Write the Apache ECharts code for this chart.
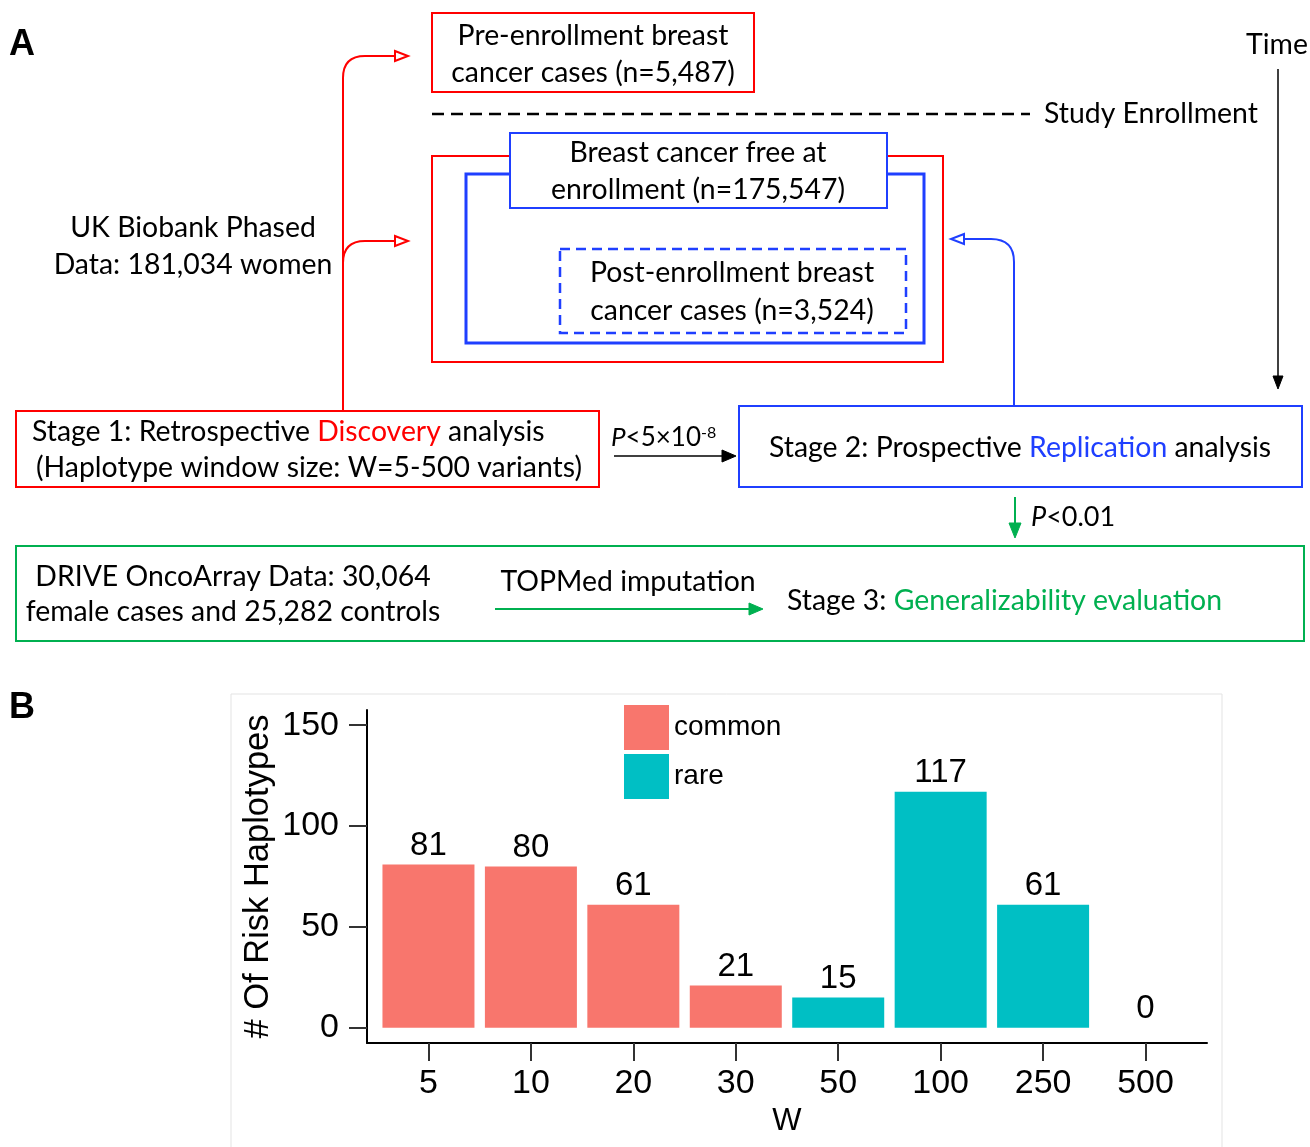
<!DOCTYPE html>
<html>
<head>
<meta charset="utf-8">
<script src="https://cdn.jsdelivr.net/npm/echarts@6/dist/echarts.min.js"></script>
<style>html,body{margin:0;padding:0;background:#fff}#c{width:1310px;height:1147px}</style>
</head>
<body>
<div id="c"></div>
<script>
// ---- Data (panel B) ----
const wCategories = ['5', '10', '20', '30', '50', '100', '250', '500'];
const commonValues = [81, 80, 61, 21, null, null, null, null];
const rareValues = [null, null, null, null, 15, 117, 61, 0];
const yTickValues = [0, 50, 100, 150];
const seriesNames = ['common', 'rare'];

// ---- Styling ----
const RED = '#FF0000', BLUE = '#1F3FFF', GREEN = '#00B050';
const FF = 'Lato, "Noto Sans", sans-serif';
const AF = '"Liberation Sans", Arial, Helvetica, sans-serif';
const FS = 28.4;

function toPoints(vals) {
  const out = [];
  vals.forEach((v, i) => { if (v !== null) out.push([i + 1, v]); });
  return out;
}

function txt(x, y, text, o) {
  o = o || {};
  return {
    type: 'text', x: x, y: y, z: 10,
    style: {
      text: text, fill: o.fill || '#000',
      font: (o.style || 'normal') + ' ' + (o.weight || 'normal') + ' ' + (o.size || FS) + 'px ' + (o.family || FF),
      align: o.align || 'center', verticalAlign: 'middle',
      rich: o.rich
    }
  };
}
function rect(x, y, w, h, stroke, lw, dash, fill) {
  return {
    type: 'rect', z: 5,
    shape: { x: x, y: y, width: w, height: h },
    style: { fill: fill || 'none', stroke: stroke, lineWidth: lw, lineDash: dash || null }
  };
}
function line(x1, y1, x2, y2, stroke, lw, dash) {
  return { type: 'line', z: 5, shape: { x1, y1, x2, y2 }, style: { stroke: stroke, lineWidth: lw, lineDash: dash || null } };
}
function curve(x1, y1, cx, cy, x2, y2, stroke, lw) {
  return { type: 'bezierCurve', z: 5, shape: { x1, y1, cpx1: cx, cpy1: cy, x2, y2 }, style: { stroke: stroke, lineWidth: lw, fill: 'none' } };
}
function tri(pts, stroke, fill, lw) {
  return { type: 'polygon', z: 6, shape: { points: pts }, style: { stroke: stroke, fill: fill, lineWidth: lw || 1 } };
}

const rich = (col) => ({
  n: { fill: '#000', font: 'normal ' + FS + 'px ' + FF },
  c: { fill: col, font: 'normal ' + FS + 'px ' + FF }
});

const graphics = [
  // panel labels
  txt(9, 45, 'A', { weight: 'bold', size: 36, family: AF, align: 'left' }),
  txt(9, 708, 'B', { weight: 'bold', size: 36, family: AF, align: 'left' }),
  // panel B frame
  { type: 'rect', z: -1, shape: { x: 231, y: 694, width: 991, height: 460 }, style: { fill: '#fff', stroke: '#e3e3e3', lineWidth: 1 } },

  // pre-enrollment box
  rect(432, 13, 322, 79, RED, 2),
  txt(593, 36, 'Pre-enrollment breast'),
  txt(593, 73, 'cancer cases (n=5,487)'),

  // study enrollment dashed
  line(432, 114, 1030, 114, '#000', 2.5, [12, 7]),
  txt(1044, 114, 'Study Enrollment', { align: 'left' }),

  // time arrow
  txt(1277, 45, 'Time'),
  line(1278, 69, 1278, 377, '#000', 1.5),
  tri([[1273, 376], [1283, 376], [1278, 389]], '#000', '#000'),

  // nested boxes
  rect(432, 156, 511, 206, RED, 2),
  rect(466, 174, 458, 169, BLUE, 3),
  rect(510, 133, 377, 75, BLUE, 2, null, '#fff'),
  txt(698, 153, 'Breast cancer free at'),
  txt(698, 190, 'enrollment (n=175,547)'),
  rect(560, 249, 346, 84, BLUE, 2.5, [10, 6]),
  txt(732, 273, 'Post-enrollment breast'),
  txt(732, 311, 'cancer cases (n=3,524)'),

  // UK biobank
  txt(193, 228, 'UK Biobank Phased'),
  txt(193, 265, 'Data: 181,034 women'),

  // red connectors
  line(343, 411, 343, 78, RED, 2),
  curve(343, 78, 343, 56, 365, 56, RED, 2),
  line(365, 56, 395, 56, RED, 2),
  tri([[395, 51], [408, 56], [395, 61]], RED, '#fff', 2),
  curve(343, 263, 343, 241, 365, 241, RED, 2),
  line(365, 241, 395, 241, RED, 2),
  tri([[395, 236], [408, 241], [395, 246]], RED, '#fff', 2),

  // blue connector
  line(1014, 406, 1014, 262, BLUE, 2),
  curve(1014, 262, 1014, 239, 991, 239, BLUE, 2),
  line(991, 239, 964, 239, BLUE, 2),
  tri([[964, 234], [951, 239], [964, 244]], BLUE, '#fff', 2),

  // stage 1
  rect(16, 411, 583, 76, RED, 2),
  txt(32, 432, '{n|Stage 1: Retrospective }{c|Discovery}{n| analysis}', { align: 'left', rich: rich(RED) }),
  txt(36, 468, '(Haplotype window size: W=5-500 variants)', { align: 'left' }),

  // arrow stage1 -> stage2
  txt(611, 438, '{i|P}{n|<5\u00d710}{s|-8}', {
    align: 'left', rich: {
      i: { fill: '#000', font: 'italic normal 26px ' + FF },
      n: { fill: '#000', font: 'normal 26px ' + FF },
      s: { fill: '#000', font: 'normal 16px ' + FF, verticalAlign: 'top' }
    }
  }),
  line(614, 456, 723, 456, '#000', 1.5),
  tri([[722, 450], [736, 456], [722, 462]], '#000', '#000'),

  // stage 2
  rect(739, 406, 563, 81, BLUE, 2),
  txt(1020, 448, '{n|Stage 2: Prospective }{c|Replication}{n| analysis}', { rich: rich(BLUE) }),

  // green arrow down
  line(1015, 497, 1015, 524, GREEN, 2),
  tri([[1009, 523], [1021, 523], [1015, 538]], GREEN, GREEN),
  txt(1031, 517, '{i|P}{n|<0.01}', {
    align: 'left', rich: {
      i: { fill: '#000', font: 'italic normal 27px ' + FF },
      n: { fill: '#000', font: 'normal 27px ' + FF }
    }
  }),

  // stage 3 box
  rect(16, 546, 1288, 95, GREEN, 2),
  txt(233, 577, 'DRIVE OncoArray Data: 30,064'),
  txt(233, 612, 'female cases and 25,282 controls'),
  txt(628, 582, 'TOPMed imputation'),
  line(495, 609, 750, 609, GREEN, 2),
  tri([[749, 603], [763, 609], [749, 615]], GREEN, GREEN),
  txt(787, 601, '{n|Stage 3: }{c|Generalizability evaluation}', { align: 'left', rich: rich(GREEN) })
];

const chart = echarts.init(document.getElementById('c'), null, { renderer: 'canvas' });
chart.setOption({
  animation: false,
  backgroundColor: '#fff',
  graphic: graphics,
  legend: {
    data: seriesNames,
    orient: 'vertical',
    left: 619, top: 700,
    itemWidth: 45, itemHeight: 45, itemGap: 4,
    icon: 'rect',
    textStyle: { fontSize: 28, fontFamily: AF, color: '#000' }
  },
  grid: { left: 367, top: 710, width: 840, height: 333, containLabel: false },
  xAxis: {
    type: 'value', min: 0.4, max: 8.6,
    name: 'W', nameLocation: 'middle', nameGap: 63, nameMoveOverlap: false,
    nameTextStyle: { fontSize: 31, fontFamily: AF, color: '#000' },
    axisLine: { show: true, onZero: false, lineStyle: { color: '#000', width: 2 } },
    axisTick: { show: true, length: 18, customValues: [1, 2, 3, 4, 5, 6, 7, 8], lineStyle: { color: '#333', width: 2 } },
    axisLabel: {
      customValues: [1, 2, 3, 4, 5, 6, 7, 8], margin: 24,
      fontSize: 34, fontFamily: AF, color: '#000',
      formatter: (v) => wCategories[Math.round(v) - 1]
    },
    splitLine: { show: false }
  },
  yAxis: {
    type: 'value', min: -7.5, max: 157.5,
    name: '# Of Risk Haplotypes', nameLocation: 'middle', nameGap: 91, nameRotate: 90, nameMoveOverlap: false,
    nameTextStyle: { fontSize: 34.5, fontFamily: AF, color: '#000' },
    axisLine: { show: true, onZero: false, lineStyle: { color: '#000', width: 2 } },
    axisTick: { show: true, length: 18, customValues: yTickValues, lineStyle: { color: '#333', width: 2 } },
    axisLabel: { customValues: yTickValues, margin: 28, fontSize: 34, fontFamily: AF, color: '#000' },
    splitLine: { show: false }
  },
  series: [
    {
      name: seriesNames[0], type: 'bar', data: toPoints(commonValues),
      barWidth: 92, barGap: '-100%',
      itemStyle: { color: '#F8766D' },
      label: { show: true, position: 'top', distance: 2, fontSize: 33, fontFamily: AF, color: '#000',
        formatter: (p) => p.value[1] }
    },
    {
      name: seriesNames[1], type: 'bar', data: toPoints(rareValues),
      barWidth: 92, barGap: '-100%',
      itemStyle: { color: '#00BFC4' },
      label: { show: true, position: 'top', distance: 2, fontSize: 33, fontFamily: AF, color: '#000',
        formatter: (p) => p.value[1] }
    }
  ]
});
</script>
</body>
</html>
